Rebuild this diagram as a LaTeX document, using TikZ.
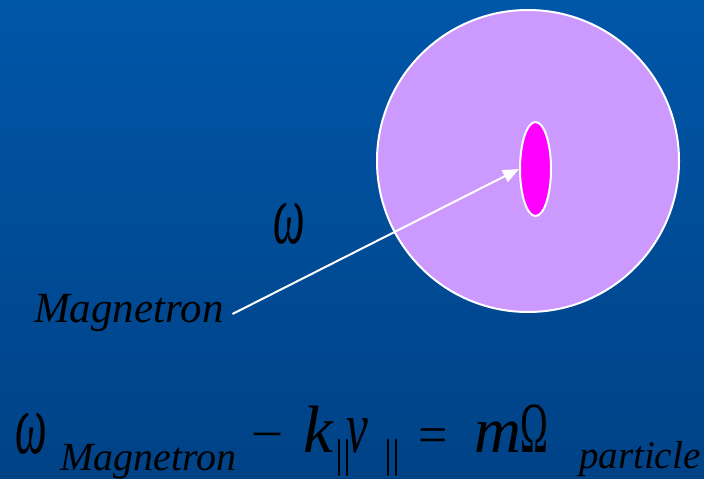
\documentclass[tikz,border=0pt]{standalone}
\usepackage{fontspec}
\setmainfont{Liberation Serif}
\usetikzlibrary{arrows.meta,shapes.geometric}

\definecolor{bgtop}{RGB}{0,86,168}
\definecolor{bgbot}{RGB}{0,66,134}
\definecolor{plasma}{RGB}{204,153,255}
\definecolor{magenta}{RGB}{255,0,255}

\tikzset{
  txt/.style={inner sep=0pt, anchor=base west, text=black, font=\itshape},
  up/.style={inner sep=0pt, anchor=base west, text=black, font=\upshape},
}
\newcommand{\fs}[1]{\fontsize{#1}{#1}\selectfont}

\begin{document}
\begin{tikzpicture}[x=1pt, y=-1pt, >=Triangle, line width=2pt]

    % === 背景 ===
    \shade[top color=bgtop, bottom color=bgbot] (0,0) rectangle (704,479);
    \useasboundingbox (0,0) rectangle (704,479);

    % === 坐标 ===
    \coordinate (O) at (528,161);
    \coordinate (P) at (535.5,169);

    % === 等离子体圆与磁控管 ===
    \node[circle, draw=white, fill=plasma, minimum size=302pt, inner sep=0pt] (plasma) at (O) {};
    \node[ellipse, draw=white, fill=magenta, minimum width=31pt, minimum height=94pt, inner sep=0pt] (mag) at (P) {};

    % === 标注 ===
    \node[txt] (omega) at (272,243) {\fs{86}\scalebox{0.52}[1]{ω}};
    \node[txt] (label) at (33,322) {\fs{43}Magnetron};
    \draw[white, ->, >={Triangle[length=16pt, width=13pt]}]
        ([xshift=8pt, yshift=8pt]label.base east) -- (mag.west);

    % === 方程 ===
    \node[txt] (w) at (15,453) {\fs{86}\scalebox{0.52}[1]{ω}};
    \node[txt] (wsub) at (59,470) {\fs{40}Magnetron};
    \node[up] (minus) at (253,446) {\fs{52}–};
    \node[txt] (k) at (302,452) {\fs{67}k};
    \node[up] (ksub) at (334,467) {\fs{40}||};
    \node[txt] (v) at (345,452) {\fs{74}\scalebox{0.66}[1]{v}};
    \node[up] (vsub) at (383,467) {\fs{40}||};
    \node[up] (eq) at (417,452) {\fs{52}=};
    \node[txt] (m) at (473,452) {\fs{65}m};
    \node[up] (Om) at (519,452) {\fs{72}\scalebox{0.52}[1]{Ω}};
    \node[txt] (Omsub) at (578,468) {\fs{39}particle};

\end{tikzpicture}
\end{document}
